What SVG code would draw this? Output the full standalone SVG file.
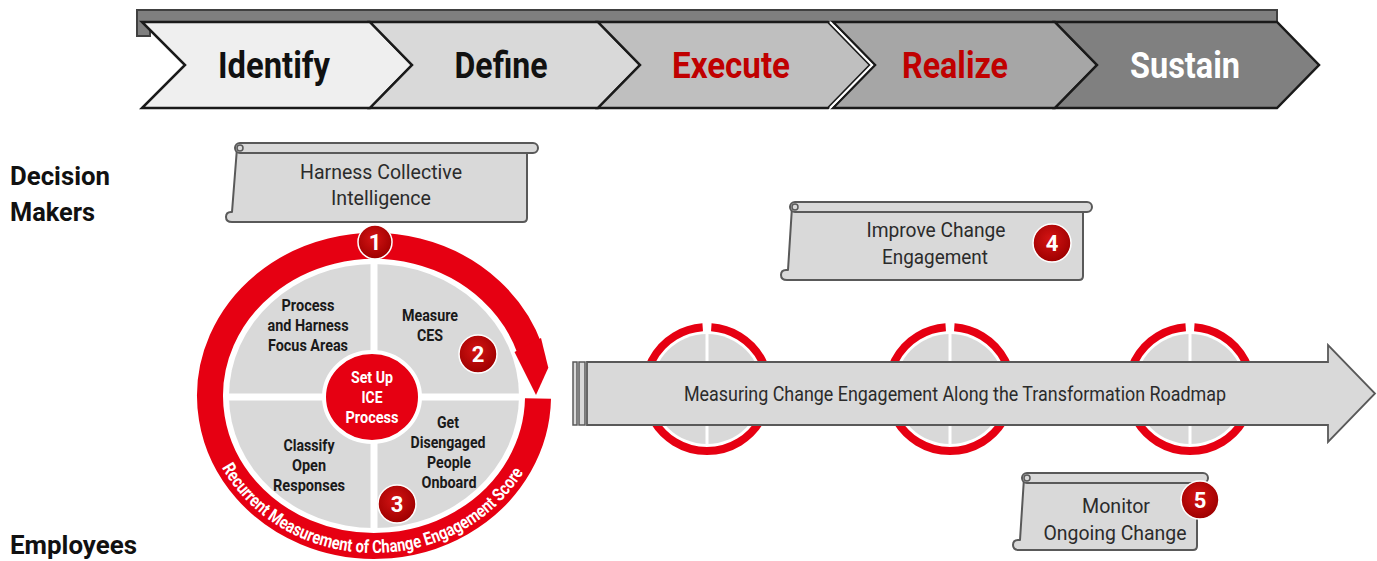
<svg xmlns="http://www.w3.org/2000/svg" width="1377" height="561" viewBox="0 0 1377 561">
<style>
.chev{stroke:#1a1a1a;stroke-width:2.5;stroke-linejoin:miter}
.phase{font-family:"Roboto","Liberation Sans",sans-serif;font-weight:bold;font-size:37px;text-anchor:middle}
.side{font-family:"Roboto","Liberation Sans",sans-serif;font-weight:bold;font-size:26px;fill:#111}
.scroll{fill:#d9d9d9;stroke:#595959;stroke-width:2;stroke-linejoin:round}
.stext{font-family:"Roboto","Liberation Sans",sans-serif;font-size:20.5px;fill:#2b2b2b;text-anchor:middle}
.qtext{font-family:"Roboto","Liberation Sans",sans-serif;font-weight:bold;font-size:16px;fill:#1a1a1a;text-anchor:middle}
.ctext{font-family:"Roboto","Liberation Sans",sans-serif;font-weight:bold;font-size:16px;fill:#fff;text-anchor:middle}
.badge{fill:url(#bg);stroke:#fff;stroke-width:1.5}
.bnum{font-family:"Roboto","Liberation Sans",sans-serif;font-weight:bold;font-size:22px;fill:#fff;text-anchor:middle}
.red{fill:#e60012}
.ring{fill:none;stroke:#e60012}
.gray{fill:#d9d9d9}
.wline{stroke:#fff}
</style>
<defs>
<radialGradient id="bg" cx="45%" cy="40%" r="60%">
<stop offset="0" stop-color="#d41414"/>
<stop offset="1" stop-color="#9e0000"/>
</radialGradient>
<path id="arcText" d="M 213.3 449.7 A 171 157 0 0 0 532.5 454.8"/>
</defs>

<g id="phase-bar">
<polygon points="137,10 1277,10 1277,24 150,24 150,36 137,36" fill="#7f7f7f" stroke="#404040" stroke-width="2"/>
</g>
<g id="phase-identify">
<polygon class="chev" fill="#efefef" points="142,22 370,22 412,65 370,108 142,108 185,65"/>
<text class="phase" x="274" y="78" fill="#111" textLength="112" lengthAdjust="spacingAndGlyphs">Identify</text>
</g>
<g id="phase-define">
<polygon class="chev" fill="#d9d9d9" points="370,22 598,22 640,65 598,108 370,108 412,65"/>
<text class="phase" x="501" y="78" fill="#111" textLength="93" lengthAdjust="spacingAndGlyphs">Define</text>
</g>
<g id="phase-execute">
<polygon class="chev" fill="#bfbfbf" points="598,22 828,22 870,65 828,108 598,108 640,65"/>
<text class="phase" x="731" y="78" fill="#c00000" textLength="118" lengthAdjust="spacingAndGlyphs">Execute</text>
</g>
<g id="phase-realize">
<polygon class="chev" fill="#a6a6a6" points="833,22 1055,22 1097,65 1055,108 833,108 875,65"/>
<polyline points="830,22 872,65 830,108" fill="none" stroke="#fff" stroke-width="2"/>
<text class="phase" x="955" y="78" fill="#c00000" textLength="106" lengthAdjust="spacingAndGlyphs">Realize</text>
</g>
<g id="phase-sustain">
<polygon class="chev" fill="#808080" points="1055,22 1277,22 1319,65 1277,108 1055,108 1097,65"/>
<text class="phase" x="1185" y="78" fill="#fff" textLength="110" lengthAdjust="spacingAndGlyphs">Sustain</text>
</g>

<g id="label-decision-makers">
<text class="side" x="10" y="185" textLength="100" lengthAdjust="spacingAndGlyphs">Decision</text>
<text class="side" x="10" y="221" textLength="85" lengthAdjust="spacingAndGlyphs">Makers</text>
</g>
<g id="label-employees">
<text class="side" x="10" y="554" textLength="127" lengthAdjust="spacingAndGlyphs">Employees</text>
</g>

<g id="scroll-harness">
<path class="scroll" d="M 237 148 L 527 148 L 527 218 Q 527 222 523 222 L 232 222 Q 226 222 226 217 Q 226 212 231 212 L 232 212 Z"/>
<rect class="scroll" x="235" y="143" width="303" height="10" rx="5"/>
<circle cx="240" cy="148" r="3" fill="none" stroke="#595959" stroke-width="1.5"/>
<text class="stext" x="381" y="179" textLength="162" lengthAdjust="spacingAndGlyphs">Harness Collective</text>
<text class="stext" x="381" y="205" textLength="100" lengthAdjust="spacingAndGlyphs">Intelligence</text>
</g>

<g id="ice-cycle">
<ellipse class="gray" cx="374" cy="396" rx="145" ry="132"/>
<line class="wline" x1="374" y1="258" x2="374" y2="534" stroke-width="7"/>
<line class="wline" x1="224" y1="397" x2="524" y2="397" stroke-width="7"/>
<path class="ring" stroke-width="26" d="M 538 398.6 A 164 150 0 1 1 530 349.6"/>
<polygon class="red" points="514.5,352 541,338 548.3,367.7 536,395"/>
<text font-family="Roboto, 'Liberation Sans', sans-serif" font-weight="bold" font-size="18" fill="#fff" text-anchor="middle"><textPath href="#arcText" startOffset="50%" textLength="360" lengthAdjust="spacingAndGlyphs">Recurrent Measurement of Change Engagement Score</textPath></text>
</g>

<g id="quad-process">
<text class="qtext" x="308" y="311" textLength="53" lengthAdjust="spacingAndGlyphs">Process</text>
<text class="qtext" x="308" y="331" textLength="81" lengthAdjust="spacingAndGlyphs">and Harness</text>
<text class="qtext" x="308" y="351" textLength="80" lengthAdjust="spacingAndGlyphs">Focus Areas</text>
</g>
<g id="quad-measure">
<text class="qtext" x="430" y="321" textLength="56" lengthAdjust="spacingAndGlyphs">Measure</text>
<text class="qtext" x="430" y="341" textLength="26" lengthAdjust="spacingAndGlyphs">CES</text>
</g>
<g id="quad-classify">
<text class="qtext" x="309" y="451" textLength="51" lengthAdjust="spacingAndGlyphs">Classify</text>
<text class="qtext" x="309" y="471" textLength="34" lengthAdjust="spacingAndGlyphs">Open</text>
<text class="qtext" x="309" y="491" textLength="72" lengthAdjust="spacingAndGlyphs">Responses</text>
</g>
<g id="quad-onboard">
<text class="qtext" x="448" y="428" textLength="22" lengthAdjust="spacingAndGlyphs">Get</text>
<text class="qtext" x="448" y="448" textLength="75" lengthAdjust="spacingAndGlyphs">Disengaged</text>
<text class="qtext" x="449" y="468" textLength="44" lengthAdjust="spacingAndGlyphs">People</text>
<text class="qtext" x="449" y="488" textLength="55" lengthAdjust="spacingAndGlyphs">Onboard</text>
</g>
<g id="center-setup">
<ellipse cx="372" cy="397" rx="48" ry="45" class="red" stroke="#fff" stroke-width="4"/>
<text class="ctext" x="372" y="383" textLength="42" lengthAdjust="spacingAndGlyphs">Set Up</text>
<text class="ctext" x="372" y="403" textLength="21" lengthAdjust="spacingAndGlyphs">ICE</text>
<text class="ctext" x="372" y="423" textLength="53" lengthAdjust="spacingAndGlyphs">Process</text>
</g>

<g id="badge-1"><circle class="badge" cx="375" cy="242" r="17"/><text class="bnum" x="375" y="250">1</text></g>
<g id="badge-2"><circle class="badge" cx="478" cy="354" r="19"/><text class="bnum" x="478" y="362">2</text></g>
<g id="badge-3"><circle class="badge" cx="397" cy="504" r="19"/><text class="bnum" x="397" y="512">3</text></g>

<g id="scroll-improve">
<path class="scroll" d="M 792 207 L 1083 207 L 1083 276 Q 1083 280 1079 280 L 787 280 Q 781 280 781 275 Q 781 270 786 270 L 788 270 Z"/>
<rect class="scroll" x="790" y="202" width="302" height="10" rx="5"/>
<circle cx="795" cy="207" r="3" fill="none" stroke="#595959" stroke-width="1.5"/>
<text class="stext" x="936" y="237" textLength="139" lengthAdjust="spacingAndGlyphs">Improve Change</text>
<text class="stext" x="935" y="264" textLength="106" lengthAdjust="spacingAndGlyphs">Engagement</text>
</g>
<g id="badge-4"><circle class="badge" cx="1052" cy="243" r="19"/><text class="bnum" x="1052" y="251">4</text></g>

<g id="milestone-1">
<circle class="gray" cx="707" cy="389" r="55"/>
<line class="wline" x1="707" y1="330" x2="707" y2="448" stroke-width="3"/>
<path class="ring" stroke-width="8" d="M 711.3 327.2 A 62 62 0 1 1 702.7 327.2"/>
</g>
<g id="milestone-2">
<circle class="gray" cx="950" cy="389" r="55"/>
<line class="wline" x1="950" y1="330" x2="950" y2="448" stroke-width="3"/>
<path class="ring" stroke-width="8" d="M 954.3 327.2 A 62 62 0 1 1 945.7 327.2"/>
</g>
<g id="milestone-3">
<circle class="gray" cx="1190" cy="389" r="55"/>
<line class="wline" x1="1190" y1="330" x2="1190" y2="448" stroke-width="3"/>
<path class="ring" stroke-width="8" d="M 1194.3 327.2 A 62 62 0 1 1 1185.7 327.2"/>
</g>

<g id="connectors">
<g id="roadmap-arrow">
<rect x="573" y="362" width="4" height="63" fill="#d9d9d9" stroke="#595959" stroke-width="1.5"/>
<rect x="579" y="362" width="6" height="63" fill="#d9d9d9" stroke="#595959" stroke-width="1.5"/>
<polygon points="587,362 1328,362 1328,345 1375,393.5 1328,442 1328,425 587,425" fill="#d9d9d9" stroke="#595959" stroke-width="1.8" stroke-linejoin="miter"/>
<text class="stext" x="955" y="401" textLength="542" lengthAdjust="spacingAndGlyphs">Measuring Change Engagement Along the Transformation Roadmap</text>
</g>
</g>

<g id="scroll-monitor">
<path class="scroll" d="M 1024 478 L 1197 478 L 1197 546 Q 1197 550 1193 550 L 1019 550 Q 1013 550 1013 545 Q 1013 540 1018 540 L 1020 540 Z"/>
<rect class="scroll" x="1022" y="473" width="186" height="10" rx="5"/>
<circle cx="1027" cy="478" r="3" fill="none" stroke="#595959" stroke-width="1.5"/>
<text class="stext" x="1116" y="513" textLength="68" lengthAdjust="spacingAndGlyphs">Monitor</text>
<text class="stext" x="1115" y="540" textLength="143" lengthAdjust="spacingAndGlyphs">Ongoing Change</text>
</g>
<g id="badge-5"><circle class="badge" cx="1200" cy="500" r="19"/><text class="bnum" x="1200" y="508">5</text></g>
</svg>
